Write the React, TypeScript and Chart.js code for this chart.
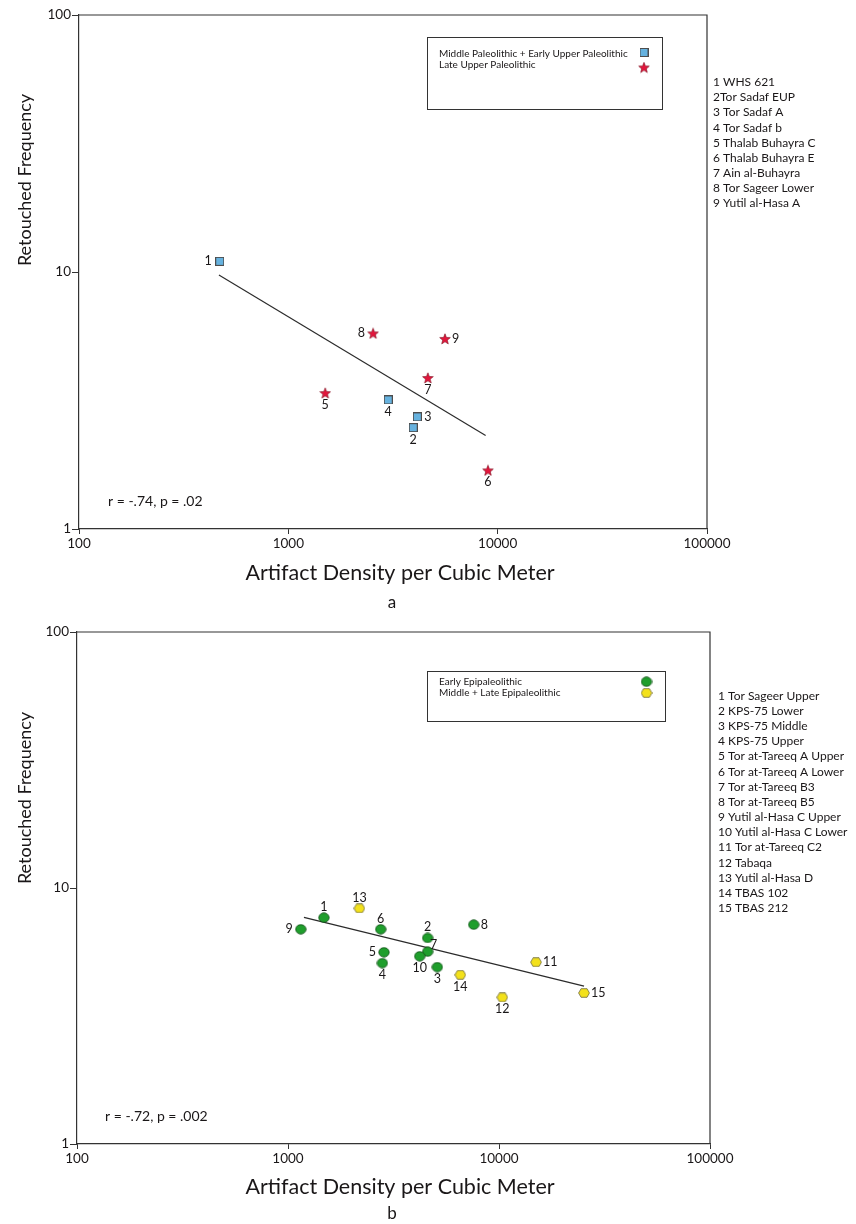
import React, { useEffect, useRef } from "react";
import { Chart, registerables } from "chart.js";

Chart.register(...registerables);

// ---------- Panel a data ----------
const idsA = [1, 2, 3, 4, 5, 6, 7, 8, 9];
const sitesA = [
  "1 WHS 621",
  "2Tor Sadaf EUP",
  "3 Tor Sadaf A",
  "4 Tor Sadaf b",
  "5 Thalab Buhayra C",
  "6 Thalab Buhayra E",
  "7 Ain al-Buhayra",
  "8 Tor Sageer Lower",
  "9 Yutil al-Hasa A",
];
const densityA = [470, 3950, 4130, 3000, 1500, 8990, 4640, 2540, 5600];
const retouchA = [11.0, 2.48, 2.73, 3.18, 3.38, 1.69, 3.87, 5.77, 5.49];
const groupA = ["MP", "MP", "MP", "MP", "LUP", "LUP", "LUP", "LUP", "LUP"];
const labelPlaceA = ["left", "below", "right", "below", "below", "below", "below", "left", "right"];
const fitXA = [466, 8760];
const fitYA = [9.73, 2.31];
const legendA = ["Middle Paleolithic + Early Upper Paleolithic", "Late Upper Paleolithic"];
const statA = "r = -.74, p = .02";

// ---------- Panel b data ----------
const idsB = [1, 2, 3, 4, 5, 6, 7, 8, 9, 10, 11, 12, 13, 14, 15];
const sitesB = [
  "1 Tor Sageer Upper",
  "2 KPS-75 Lower",
  "3 KPS-75 Middle",
  "4 KPS-75 Upper",
  "5 Tor at-Tareeq A Upper",
  "6 Tor at-Tareeq A Lower",
  "7 Tor at-Tareeq B3",
  "8 Tor at-Tareeq B5",
  "9 Yutil al-Hasa C Upper",
  "10 Yutil al-Hasa C Lower",
  "11 Tor at-Tareeq C2",
  "12 Tabaqa",
  "13 Yutil al-Hasa D",
  "14 TBAS 102",
  "15 TBAS 212",
];
const densityB = [1480, 4590, 5100, 2800, 2850, 2750, 4590, 7590, 1150, 4210, 14980, 10370, 2180, 6560, 25300];
const retouchB = [7.66, 6.38, 4.91, 5.09, 5.61, 6.9, 5.64, 7.19, 6.9, 5.41, 5.13, 3.74, 8.33, 4.58, 3.89];
const groupB = ["EE", "EE", "EE", "EE", "EE", "EE", "EE", "EE", "EE", "EE", "ML", "ML", "ML", "ML", "ML"];
const labelPlaceB = [
  "above", "above", "below", "below", "left", "above", "upright", "right",
  "left", "below", "right", "below", "above", "below", "right",
];
const fitXB = [1190, 25300];
const fitYB = [7.68, 4.14];
const legendB = ["Early Epipaleolithic", "Middle + Late Epipaleolithic"];
const statB = "r = -.72, p = .002";

// ---------- shared ----------
const xTicks = [100, 1000, 10000, 100000];
const yTicks = [1, 10, 100];
const xTitle = "Artifact Density per Cubic Meter";
const yTitle = "Retouched Frequency";
const FONT = "Lato";
const INK = "#1a1718";

// ---------- marker images ----------
function mk(w: number, h: number, draw: (c: CanvasRenderingContext2D) => void) {
  const cv = document.createElement("canvas");
  cv.width = w;
  cv.height = h;
  const c = cv.getContext("2d")!;
  draw(c);
  return cv;
}
function squareImg() {
  return mk(9, 9, (c) => {
    c.fillStyle = "#66b2df";
    c.strokeStyle = "#4d4d4d";
    c.lineWidth = 1;
    c.fillRect(0.5, 0.5, 8, 8);
    c.strokeRect(0.5, 0.5, 8, 8);
  });
}
function starImg() {
  return mk(12, 12, (c) => {
    c.beginPath();
    for (let i = 0; i < 10; i++) {
      const r = i % 2 === 0 ? 5.6 : 2.4;
      const a = -Math.PI / 2 + (i * Math.PI) / 5;
      const px = 6 + r * Math.cos(a);
      const py = 6.4 + r * Math.sin(a);
      if (i === 0) c.moveTo(px, py);
      else c.lineTo(px, py);
    }
    c.closePath();
    c.fillStyle = "#e2163c";
    c.fill();
    c.strokeStyle = "#7a0b1d";
    c.lineWidth = 0.6;
    c.stroke();
  });
}
function circleImg() {
  return mk(12, 11, (c) => {
    c.beginPath();
    c.ellipse(6, 5.5, 5.2, 4.7, 0, 0, Math.PI * 2);
    c.fillStyle = "#1f9e2c";
    c.fill();
    c.strokeStyle = "#0f4d15";
    c.lineWidth = 0.8;
    c.stroke();
  });
}
function hexImg() {
  return mk(12, 10, (c) => {
    c.beginPath();
    c.moveTo(0.6, 5);
    c.lineTo(3, 0.7);
    c.lineTo(9, 0.7);
    c.lineTo(11.4, 5);
    c.lineTo(9, 9.3);
    c.lineTo(3, 9.3);
    c.closePath();
    c.fillStyle = "#f3e11b";
    c.fill();
    c.strokeStyle = "#6e6a3a";
    c.lineWidth = 0.8;
    c.stroke();
  });
}

type PanelCfg = {
  ids: number[];
  xs: number[];
  ys: number[];
  groups: string[];
  groupKeys: string[];
  places: string[];
  fitX: number[];
  fitY: number[];
  legend: string[];
  stat: string;
  sites: string[];
  letter: string;
  area: { left: number; right: number; top: number; bottom: number };
  legendBox: { x: number; y: number; w: number; h: number; textY: number[]; markX: number; markY: number[] };
  listPos: { x: number; y: number; step: number };
  statPos: { x: number; y: number };
  xTitleY: number;
  letterY: number;
  yTitleY: number;
};

const W = 856;
const H = 612;

function buildChart(canvas: HTMLCanvasElement, p: PanelCfg, imgs: HTMLCanvasElement[]) {
  const datasets: any[] = p.groupKeys.map((g, gi) => {
    const idx = p.ids.map((_, i) => i).filter((i) => p.groups[i] === g);
    return {
      type: "scatter",
      label: p.legend[gi],
      data: idx.map((i) => ({ x: p.xs[i], y: p.ys[i], id: p.ids[i], place: p.places[i] })),
      pointStyle: imgs[gi],
      pointRadius: 5,
      pointHoverRadius: 5,
      order: 1,
    };
  });
  datasets.unshift({
    type: "line",
    label: "fit",
    data: p.fitX.map((x, i) => ({ x, y: p.fitY[i] })),
    borderColor: "#2b2b2b",
    borderWidth: 1.2,
    pointRadius: 0,
    fill: false,
    order: 2,
  });

  const decor = {
    id: "decor",
    afterDatasetsDraw(chart: any) {
      const ctx = chart.ctx as CanvasRenderingContext2D;
      const ca = chart.chartArea;
      ctx.save();
      ctx.strokeStyle = "#333333";
      ctx.lineWidth = 1.2;
      ctx.beginPath();
      ctx.moveTo(ca.left, ca.top);
      ctx.lineTo(ca.right, ca.top);
      ctx.lineTo(ca.right, ca.bottom);
      ctx.stroke();

      ctx.fillStyle = INK;
      ctx.font = `12.5px ${FONT}`;
      chart.data.datasets.forEach((ds: any, di: number) => {
        if (ds.type !== "scatter") return;
        const meta = chart.getDatasetMeta(di);
        meta.data.forEach((el: any, j: number) => {
          const d = ds.data[j];
          const t = String(d.id);
          let x = el.x;
          let y = el.y;
          ctx.textBaseline = "middle";
          if (d.place === "left") {
            ctx.textAlign = "right";
            x -= 8;
          } else if (d.place === "right") {
            ctx.textAlign = "left";
            x += 7;
          } else if (d.place === "above") {
            ctx.textAlign = "center";
            y -= 10.5;
          } else if (d.place === "below") {
            ctx.textAlign = "center";
            y += 12;
          } else {
            ctx.textAlign = "center";
            x += 6;
            y -= 7;
          }
          ctx.fillText(t, x, y);
        });
      });

      const lb = p.legendBox;
      ctx.strokeStyle = "#333333";
      ctx.lineWidth = 1;
      ctx.strokeRect(lb.x + 0.5, lb.y + 0.5, lb.w, lb.h);
      ctx.font = `10px ${FONT}`;
      ctx.textAlign = "left";
      ctx.textBaseline = "middle";
      p.legend.forEach((t, i) => {
        ctx.fillText(t, lb.x + 12, lb.textY[i]);
        const im = imgs[i];
        ctx.drawImage(im, lb.markX - im.width / 2, lb.markY[i] - im.height / 2);
      });

      ctx.font = `14px ${FONT}`;
      ctx.fillText(p.stat, p.statPos.x, p.statPos.y);

      ctx.font = `12px ${FONT}`;
      p.sites.forEach((s, i) => ctx.fillText(s, p.listPos.x, p.listPos.y + i * p.listPos.step));

      ctx.textAlign = "center";
      ctx.font = `21.5px ${FONT}`;
      ctx.fillText(xTitle, 400, p.xTitleY);
      ctx.font = `17px ${FONT}`;
      ctx.fillText(p.letter, 392, p.letterY);
      ctx.save();
      ctx.translate(25, p.yTitleY);
      ctx.rotate(-Math.PI / 2);
      ctx.font = `18px ${FONT}`;
      ctx.fillText(yTitle, 0, 0);
      ctx.restore();
      ctx.restore();
    },
  };

  const a = p.area;
  return new Chart(canvas, {
    type: "scatter",
    data: { datasets },
    options: {
      animation: false,
      responsive: false,
      devicePixelRatio: 1,
      events: [],
      layout: { padding: { left: 0, top: a.top, right: W - a.right, bottom: 0 } },
      plugins: { legend: { display: false }, tooltip: { enabled: false } },
      scales: {
        x: {
          type: "logarithmic",
          min: xTicks[0],
          max: xTicks[xTicks.length - 1],
          afterFit: (s: any) => {
            s.height = H - a.bottom;
          },
          afterBuildTicks: (s: any) => {
            s.ticks = xTicks.map((v) => ({ value: v }));
          },
          ticks: {
            autoSkip: false,
            maxRotation: 0,
            padding: 2,
            color: INK,
            font: { family: FONT, size: 13.5 },
            callback: (v: any) => String(v),
          },
          grid: { drawOnChartArea: false, drawTicks: true, tickLength: 5, color: "#333333", lineWidth: 1 },
          border: { display: true, color: "#333333", width: 1.2 },
        },
        y: {
          type: "logarithmic",
          min: yTicks[0],
          max: yTicks[yTicks.length - 1],
          afterFit: (s: any) => {
            s.width = a.left;
          },
          afterBuildTicks: (s: any) => {
            s.ticks = yTicks.map((v) => ({ value: v }));
          },
          ticks: {
            autoSkip: false,
            padding: 1,
            color: INK,
            font: { family: FONT, size: 13.5 },
            callback: (v: any) => String(v),
          },
          grid: { drawOnChartArea: false, drawTicks: true, tickLength: 7, color: "#333333", lineWidth: 1 },
          border: { display: true, color: "#333333", width: 1.2 },
        },
      },
    } as any,
    plugins: [decor],
  });
}

const panelA: PanelCfg = {
  ids: idsA,
  xs: densityA,
  ys: retouchA,
  groups: groupA,
  groupKeys: ["MP", "LUP"],
  places: labelPlaceA,
  fitX: fitXA,
  fitY: fitYA,
  legend: legendA,
  stat: statA,
  sites: sitesA,
  letter: "a",
  area: { left: 79, right: 707, top: 15, bottom: 529 },
  legendBox: { x: 427, y: 37, w: 235, h: 72, textY: [54, 65], markX: 644, markY: [52.5, 67.5] },
  listPos: { x: 713, y: 82.5, step: 15.06 },
  statPos: { x: 108, y: 501 },
  xTitleY: 573,
  letterY: 603,
  yTitleY: 180,
};

const panelB: PanelCfg = {
  ids: idsB,
  xs: densityB,
  ys: retouchB,
  groups: groupB,
  groupKeys: ["EE", "ML"],
  places: labelPlaceB,
  fitX: fitXB,
  fitY: fitYB,
  legend: legendB,
  stat: statB,
  sites: sitesB,
  letter: "b",
  area: { left: 77, right: 710, top: 20, bottom: 532 },
  legendBox: { x: 427, y: 59, w: 238, h: 50, textY: [69.5, 80.5], markX: 646.5, markY: [69.7, 81] },
  listPos: { x: 718, y: 84, step: 15.15 },
  statPos: { x: 105, y: 504 },
  xTitleY: 575,
  letterY: 602,
  yTitleY: 186,
};

function Panel({ cfg, imgsFn }: { cfg: PanelCfg; imgsFn: () => HTMLCanvasElement[] }) {
  const ref = useRef<HTMLCanvasElement | null>(null);
  useEffect(() => {
    if (!ref.current) return;
    const ch = buildChart(ref.current, cfg, imgsFn());
    return () => ch.destroy();
  }, []);
  return <canvas ref={ref} width={W} height={H} style={{ display: "block", width: W, height: H }} />;
}

export default function App() {
  return (
    <div style={{ position: "absolute", left: 0, top: 0, width: W, height: 1224, background: "#ffffff" }}>
      <Panel cfg={panelA} imgsFn={() => [squareImg(), starImg()]} />
      <Panel cfg={panelB} imgsFn={() => [circleImg(), hexImg()]} />
    </div>
  );
}
